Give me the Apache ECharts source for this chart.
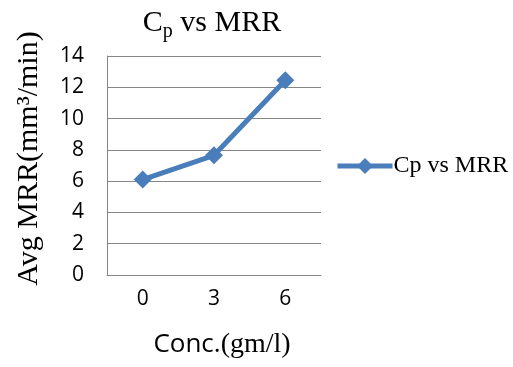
<!DOCTYPE html>
<html>
<head>
<meta charset="utf-8">
<script src="https://cdn.jsdelivr.net/npm/echarts@6/dist/echarts.min.js"></script>
<style>
  html, body { margin: 0; padding: 0; background: #fff; }
  #chart { width: 513px; height: 367px; }
</style>
</head>
<body>
<div id="chart"></div>
<script>
const categories = ['0', '3', '6']
const mrrValues = [6.1, 7.65, 12.45]
const seriesName = 'Cp vs MRR'
const yTicks = { min: 0, max: 14, interval: 2 }

const serif = '"Liberation Serif", "Times New Roman", serif'
const sans = '"Open Sans", "Liberation Sans", sans-serif'
const blue = '#4a7ebb'

const chart = echarts.init(document.getElementById('chart'))
const option = {
  animation: false,
  title: {
    text: '{a|C}{b|p}{a| vs MRR}',
    left: 207,
    textAlign: 'center',
    top: 0,
    textStyle: {
      fontWeight: 'normal',
      rich: {
        a: { fontFamily: serif, fontSize: 30, fontWeight: 'normal', color: '#000', lineHeight: 36 },
        b: { fontFamily: serif, fontSize: 20, fontWeight: 'normal', color: '#000', lineHeight: 36, padding: [18, 0, 0, 0] }
      }
    }
  },
  legend: {
    left: 335,
    top: 154,
    padding: 0,
    itemWidth: 55,
    itemHeight: 20,
    textStyle: { fontFamily: serif, fontSize: 24, color: '#000', padding: [0, 0, 0, -4] },
    lineStyle: { width: 5 },
    data: [seriesName]
  },
  grid: { left: 107, right: 192, top: 56, bottom: 92 },
  xAxis: {
    type: 'category',
    data: categories,
    name: '{s|Conc.}{t|(gm/l)}',
    nameLocation: 'middle',
    nameGap: 56,
    nameTextStyle: {
      padding: [0, 0, 0, 16],
      rich: {
        s: { fontFamily: sans, fontSize: 26, color: '#000' },
        t: { fontFamily: serif, fontSize: 28, color: '#000' }
      }
    },
    axisLine: { lineStyle: { color: '#868686', width: 1 } },
    axisTick: { show: false },
    axisLabel: { fontFamily: sans, fontSize: 21, color: '#000', margin: 14 }
  },
  yAxis: {
    type: 'value',
    min: yTicks.min,
    max: yTicks.max,
    interval: yTicks.interval,
    name: 'Avg MRR(mm³/min)',
    nameLocation: 'middle',
    nameGap: 63,
    nameTextStyle: { fontFamily: serif, fontSize: 30, color: '#000', padding: [0, 0, 0, 14] },
    axisLine: { show: true, lineStyle: { color: '#868686', width: 1 } },
    axisTick: { show: false },
    splitLine: { lineStyle: { color: '#868686', width: 1 } },
    axisLabel: { fontFamily: sans, fontSize: 21, color: '#000', margin: 23 }
  },
  series: [{
    name: seriesName,
    type: 'line',
    data: mrrValues,
    symbol: 'diamond',
    symbolSize: 18,
    lineStyle: { color: blue, width: 5 },
    itemStyle: { color: blue }
  }]
}
chart.setOption(option)
</script>
</body>
</html>
